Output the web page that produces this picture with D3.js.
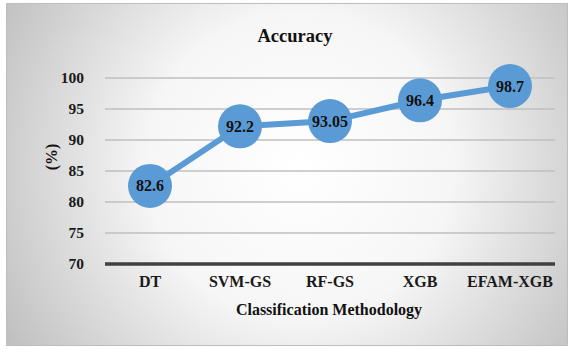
<!DOCTYPE html>
<html><head><meta charset="utf-8">
<script src="https://cdn.jsdelivr.net/npm/d3@7"></script>
<style>body{margin:0;background:#fff}svg{display:block}</style>
</head><body>
<svg id="c" width="572" height="350"></svg>
<script>
const categories = ["DT","SVM-GS","RF-GS","XGB","EFAM-XGB"];
const accuracy = [82.6, 92.2, 93.05, 96.4, 98.7];
const yTicks = [70,75,80,85,90,95,100];
const title = "Accuracy";
const xTitle = "Classification Methodology";
const yTitle = "(%)";

const svg = d3.select("#c");
const font = "'Liberation Serif','Times New Roman',serif";
const defs = svg.append("defs");
const g = defs.append("radialGradient").attr("id","bg").attr("gradientUnits","userSpaceOnUse")
  .attr("cx",300).attr("cy",165).attr("r",340);
g.append("stop").attr("offset","0").attr("stop-color","#ffffff");
g.append("stop").attr("offset","0.45").attr("stop-color","#f6f6f6");
g.append("stop").attr("offset","1").attr("stop-color","#c0c0c0");

svg.append("rect").attr("x",6.5).attr("y",3.5).attr("width",561).attr("height",342)
  .attr("fill","url(#bg)").attr("stroke","#bdbdbd").attr("stroke-width",1);

const x = d3.scaleBand().domain(categories).range([105,555]);
const y = d3.scaleLinear().domain([70,100]).range([264,78]);

svg.append("g").selectAll("line").data(yTicks.filter(t=>t>70)).join("line")
  .attr("x1",105).attr("x2",555).attr("y1",d=>y(d)).attr("y2",d=>y(d))
  .attr("stroke","#bfbfbf").attr("stroke-width",1.5);

const yAxis = svg.append("g").attr("transform","translate(105,0)")
  .call(d3.axisLeft(y).tickValues(yTicks).tickSize(0).tickPadding(21));
yAxis.select(".domain").remove();
yAxis.selectAll("text").attr("font-family",font).attr("font-size",15.5).attr("font-weight","bold").attr("fill","#1a1a1a");

svg.append("line").attr("x1",105).attr("x2",555).attr("y1",y(70)).attr("y2",y(70))
  .attr("stroke","#404040").attr("stroke-width",3.5);

const xAxis = svg.append("g").attr("transform",`translate(0,${y(70)})`)
  .call(d3.axisBottom(x).tickSize(0).tickPadding(12));
xAxis.select(".domain").remove();
xAxis.selectAll("text").attr("font-family",font).attr("font-size",16).attr("font-weight","bold").attr("fill","#1a1a1a");

const cx = d=>x(d)+x.bandwidth()/2;
const line = d3.line().x((d,i)=>cx(categories[i])).y(d=>y(d));
svg.append("path").datum(accuracy).attr("d",line).attr("fill","none")
  .attr("stroke","#5b9bd5").attr("stroke-width",6);

svg.append("g").selectAll("circle").data(accuracy).join("circle")
  .attr("cx",(d,i)=>cx(categories[i])).attr("cy",d=>y(d)).attr("r",22).attr("fill","#5b9bd5");

svg.append("g").selectAll("text").data(accuracy).join("text")
  .attr("x",(d,i)=>cx(categories[i])).attr("y",d=>y(d)).attr("dy","0.35em")
  .attr("text-anchor","middle").attr("font-family",font).attr("font-size",16).attr("font-weight","bold")
  .attr("fill","#111").text(d=>d);

svg.append("text").attr("x",295).attr("y",42).attr("text-anchor","middle")
  .attr("font-family",font).attr("font-size",18.5).attr("font-weight","bold").attr("fill","#111").text(title);

svg.append("text").attr("x",329).attr("y",315).attr("text-anchor","middle")
  .attr("font-family",font).attr("font-size",16).attr("font-weight","bold").attr("fill","#111").text(xTitle);

svg.append("text").attr("transform","translate(51,157) rotate(-90)").attr("dy","0.35em").attr("text-anchor","middle")
  .attr("font-family",font).attr("font-size",16).attr("font-weight","bold").attr("fill","#111").text(yTitle);
</script>
</body></html>
